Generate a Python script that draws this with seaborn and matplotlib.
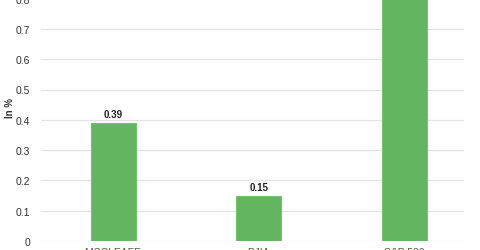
import matplotlib
matplotlib.use("Agg")
import matplotlib.pyplot as plt
import seaborn as sns
import pandas as pd

categories = ["MSCI EAFE", "DJIA", "S&P 500"]
values = [0.39, 0.15, 0.92]
yticks = [0, 0.1, 0.2, 0.3, 0.4, 0.5, 0.6, 0.7, 0.8]

sns.set_theme(style="white")
plt.rcParams['font.family'] = ['Liberation Sans', 'DejaVu Sans']

W, H = 480, 251
fig = plt.figure(figsize=(W / 100, H / 100), dpi=100)
px_per_unit = 303.0  # pixels per 1.0 on y
ymax = 1.0
left, right = 41, 464
bottom_px = H - 242
ax = fig.add_axes([left / W, bottom_px / H, (right - left) / W, px_per_unit * ymax / H])

df = pd.DataFrame({"cat": categories, "val": values})
sns.barplot(data=df, x="cat", y="val", ax=ax, color="#63b560", width=0.31,
            edgecolor="#74c46f", linewidth=0.8, saturation=1)

ax.set_xlim(-0.495, 2.41)
ax.set_ylim(0, ymax)
ax.set_yticks(yticks)
ax.set_yticklabels([("%g" % t) for t in yticks], fontsize=7.5, color="#333333")
ax.tick_params(axis="y", length=0, pad=8)
ax.tick_params(axis="x", length=0, pad=4, labelsize=7.5, labelcolor="#555555")
ax.grid(axis="y", color="#e3e3e3", linewidth=0.9)
ax.set_axisbelow(True)
for s in ax.spines.values():
    s.set_visible(False)
ax.set_xlabel("")
ax.set_ylabel("")

for i, v in enumerate(values):
    ax.annotate(f"{v:.2f}", (i, v), xytext=(0, 2.5), textcoords="offset points",
                ha="center", va="bottom", fontsize=7, fontweight="bold", color="#222222")

fig.text(10 / W, 1 - 108 / H, "In %", rotation=90, ha="center", va="center",
         fontsize=7, fontweight="bold", color="#333333")

fig.savefig("out.png", dpi=100)
